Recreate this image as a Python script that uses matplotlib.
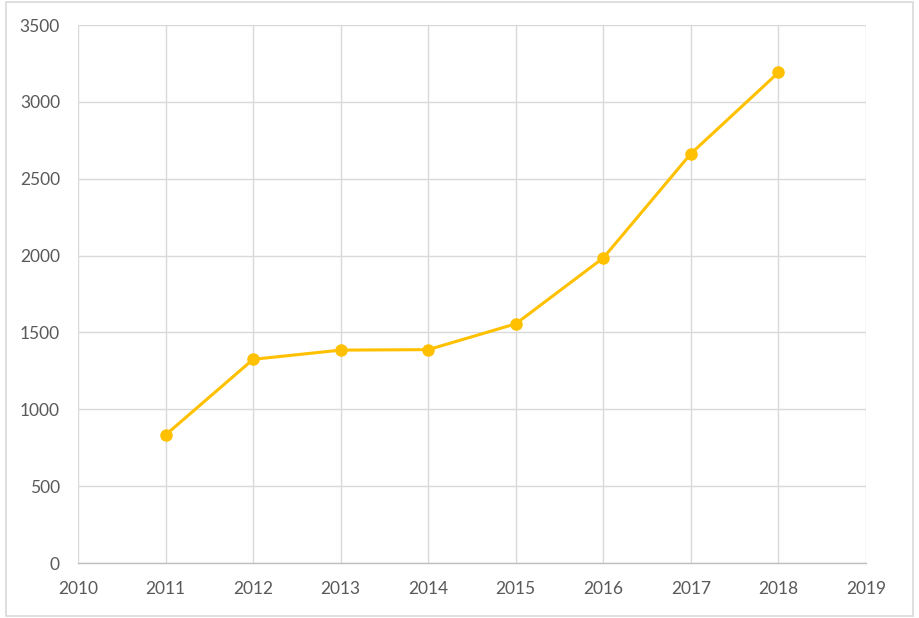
import matplotlib.pyplot as plt
from matplotlib.patches import Rectangle

# Daten
jahre = [2011, 2012, 2013, 2014, 2015, 2016, 2017, 2018]
werte = [833, 1325, 1385, 1388, 1556, 1985, 2663, 3191]

x_ticks = list(range(2010, 2020))
y_ticks = list(range(0, 3501, 500))

plt.rcParams['font.family'] = ['Lato', 'DejaVu Sans']

fig = plt.figure(figsize=(9.2, 6.18), dpi=100)
ax = fig.add_axes([78 / 920, 55 / 618, 788 / 920, 538 / 618])

# Rahmen um die ganze Grafik
fig.patches.append(Rectangle((6 / 920, 2 / 618), 907 / 920, 614 / 618,
                             transform=fig.transFigure, fill=False,
                             edgecolor="#d9d9d9", linewidth=1.2))

ax.plot(jahre, werte, color="#FFC000", linewidth=2.2,
        marker="o", markersize=8, zorder=3)

ax.set_xlim(2010, 2019)
ax.set_ylim(0, 3500)
ax.set_xticks(x_ticks)
ax.set_yticks(y_ticks)
ax.grid(True, color="#d9d9d9", linewidth=1.0)
ax.set_axisbelow(True)

for s in ["top", "right", "left"]:
    ax.spines[s].set_visible(False)
ax.spines["bottom"].set_color("#bfbfbf")
ax.spines["bottom"].set_linewidth(1.0)

ax.tick_params(length=0, labelsize=12.5, labelcolor="#595959")
ax.tick_params(axis="y", pad=13)
ax.tick_params(axis="x", pad=13)

fig.savefig("out.png", dpi=100)
